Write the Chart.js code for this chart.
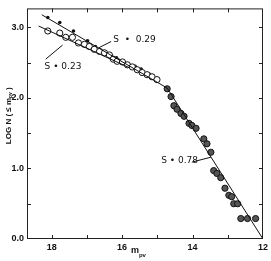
<!DOCTYPE html>
<html><head><meta charset="utf-8">
<script src="https://cdn.jsdelivr.net/npm/chart.js@4"></script>
<style>html,body{margin:0;padding:0;background:#fff}#wrap{width:271px;height:261px;position:relative}</style>
</head><body><div id="wrap"><canvas id="c"></canvas></div>
<script>
// ---- data (m_pv, log N) ----
const dotMag   = [18.11,17.77,17.38,16.98,16.76,16.56,16.36,16.16,15.99,15.82,15.63,15.46,15.23,15.01];
const dotLogN  = [3.14, 3.07, 2.95, 2.81, 2.73, 2.66, 2.62, 2.57, 2.51, 2.48, 2.45, 2.41, 2.34, 2.27];
const openMag  = [18.11,17.77,17.60,17.41,17.24,17.07,16.93,16.79,16.64,16.50,16.36,16.25,16.14,15.99,15.85,15.71,15.57,15.43,15.29,15.15,15.01];
const openLogN = [2.95, 2.92, 2.86, 2.86, 2.78, 2.76, 2.73, 2.69, 2.66, 2.64, 2.61, 2.55, 2.52, 2.51, 2.47, 2.44, 2.40, 2.36, 2.33, 2.30, 2.26];
const shadedMag  = [14.72,14.61,14.53,14.44,14.33,14.24,14.10,14.02,13.90,13.68,13.59,13.48,13.40,13.31,13.20,13.08,12.97,12.89,12.83,12.72,12.63,12.44,12.21];
const shadedLogN = [2.13, 2.02, 1.89, 1.84, 1.78, 1.74, 1.64, 1.61, 1.57, 1.42, 1.35, 1.23, 0.97, 0.93, 0.87, 0.72, 0.62, 0.60, 0.50, 0.50, 0.29, 0.29, 0.29];
const fitS029Mag = [18.28, 14.72], fitS029LogN = [3.18, 2.14];
const fitS078Mag = [14.72, 12.00], fitS078LogN = [2.14, 0.00];
const fitS023Mag = [18.37, 15.80], fitS023LogN = [3.02, 2.43];
const xTickValues = [18, 16, 14, 12];
const xTickLabels = ['18', '16', '14', '12'];
const yTickValues = [0, 1, 2, 3];
const yTickLabels = ['0.0', '1.0', '2.0', '3.0'];
const labelTexts = ['S  \u2022  0.29', 'S \u2022 0.23', 'S \u2022 0.78'];
const labelMag   = [16.25, 18.20, 14.89];
const labelLogN  = [2.82, 2.44, 1.11];
const leaderMag  = [[16.31, 16.67], [18.17, 17.69], [14.02, 13.48]];
const leaderLogN = [[2.80, 2.71], [2.55, 2.75], [1.09, 1.16]];

const pts = (xs, ys) => xs.map((x, i) => ({x, y: ys[i]}));
const lineDs = (xs, ys) => ({data: pts(xs, ys), borderColor: '#111', borderWidth: 1, pointRadius: 0, showLine: true, fill: false});

const datasets = [
  lineDs(fitS029Mag, fitS029LogN),
  lineDs(fitS078Mag, fitS078LogN),
  lineDs(fitS023Mag, fitS023LogN),
  {data: pts(openMag, openLogN), showLine: false, pointRadius: 3.1, pointBackgroundColor: '#fff', pointBorderColor: '#111', pointBorderWidth: 1},
  {data: pts(shadedMag, shadedLogN), showLine: false, pointRadius: 3.1, pointBackgroundColor: '#555', pointBorderColor: '#111', pointBorderWidth: 1},
  {data: pts(dotMag, dotLogN), showLine: false, pointRadius: 1.8, pointBackgroundColor: '#111', pointBorderColor: '#111', pointBorderWidth: 0},
];
leaderMag.forEach((m, i) => datasets.push(lineDs(m, leaderLogN[i])));

const frame = {
  id: 'frame',
  afterDraw(chart) {
    const {ctx, chartArea: a, scales: {x, y}} = chart;
    ctx.save();
    ctx.strokeStyle = '#222'; ctx.lineWidth = 1;
    ctx.strokeRect(a.left + 0.5, a.top + 0.5, a.right - a.left - 1, a.bottom - a.top - 1);
    ctx.beginPath();
    for (let v = 13; v <= 18; v += 1) {
      const px = Math.round(x.getPixelForValue(v)) + 0.5;
      ctx.moveTo(px, a.bottom); ctx.lineTo(px, a.bottom - 4);
      ctx.moveTo(px, a.top); ctx.lineTo(px, a.top + 4);
    }
    for (let v = 0.5; v <= 3.0001; v += 0.5) {
      const py = Math.round(y.getPixelForValue(v)) + 0.5;
      ctx.moveTo(a.left, py); ctx.lineTo(a.left + 4, py);
      ctx.moveTo(a.right, py); ctx.lineTo(a.right - 4, py);
    }
    ctx.stroke();
    // annotations
    ctx.fillStyle = '#111';
    ctx.font = '9px "DejaVu Sans"';
    ctx.textBaseline = 'middle'; ctx.textAlign = 'left';
    labelTexts.forEach((t, i) => ctx.fillText(t, x.getPixelForValue(labelMag[i]), y.getPixelForValue(labelLogN[i])));
    // x title m_pv
    const mx = x.getPixelForValue(15.75);
    ctx.font = 'bold 9px "Liberation Sans"';
    ctx.fillText('m', mx, 251);
    const mw = ctx.measureText('m').width;
    ctx.font = 'bold 6px "Liberation Sans"';
    ctx.fillText('pv', mx + mw, 255);
    // y title
    ctx.translate(9, (a.top + a.bottom) / 2 - 8);
    ctx.rotate(-Math.PI / 2);
    ctx.textAlign = 'left';
    const parts = [['LOG N ( \u2264 m', 'bold 8px "Liberation Sans"', 0], ['pv', 'bold 5px "Liberation Sans"', 2], [' )', 'bold 8px "Liberation Sans"', 0]];
    let total = 0;
    parts.forEach(p => { ctx.font = p[1]; total += ctx.measureText(p[0]).width; });
    let cx = -total / 2;
    parts.forEach(p => { ctx.font = p[1]; ctx.fillText(p[0], cx, p[2]); cx += ctx.measureText(p[0]).width; });
    ctx.restore();
  }
};

new Chart(document.getElementById('c'), {
  type: 'line',
  data: {datasets},
  options: {
    responsive: true, maintainAspectRatio: false, animation: false,
    layout: {padding: {top: 6, right: 5, left: 0, bottom: 0}},
    plugins: {legend: {display: false}, tooltip: {enabled: false}},
    scales: {
      x: {
        type: 'linear', reverse: true, min: 12, max: 18.7,
        grid: {display: false, drawTicks: false}, border: {display: false},
        afterBuildTicks: s => { s.ticks = xTickValues.map(v => ({value: v})); },
        afterFit: s => { s.height = 22; },
        ticks: {padding: 3, color: '#111', font: {family: 'Liberation Sans', size: 9, weight: 'bold'},
          callback: v => xTickLabels[xTickValues.indexOf(v)] ?? ''}
      },
      y: {
        type: 'linear', min: 0, max: 3.27,
        grid: {display: false, drawTicks: false}, border: {display: false},
        afterBuildTicks: s => { s.ticks = yTickValues.map(v => ({value: v})); },
        afterFit: s => { s.width = 27; },
        ticks: {padding: 3, color: '#111', font: {family: 'Liberation Sans', size: 9, weight: 'bold'},
          callback: v => yTickLabels[yTickValues.indexOf(v)] ?? ''}
      }
    }
  },
  plugins: [frame]
});
</script></body></html>
